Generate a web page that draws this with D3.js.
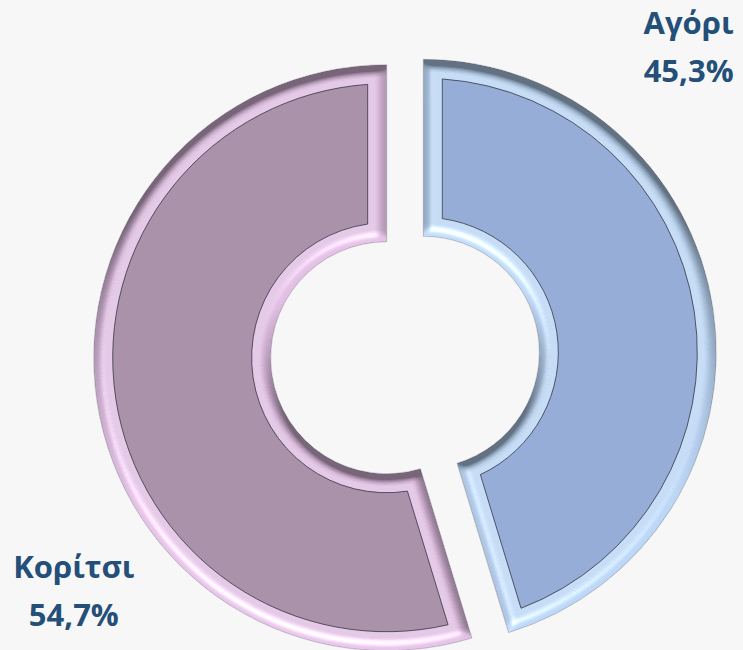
<!DOCTYPE html>
<html>
<head>
<meta charset="utf-8">
<script src="https://cdn.jsdelivr.net/npm/d3@7"></script>
<style>
  body { margin: 0; background: #f7f7f7; }
  svg { display: block; }
</style>
</head>
<body>
<script>
// δεδομένα
const categories = ["Αγόρι", "Κορίτσι"];
const values = [45.3, 54.7];
const valueLabels = ["45,3%", "54,7%"];

const width = 743;
const height = 650;
const cx = 405, cy = 355;
const outerR = 293;
const innerR = 116;
const rim = 19;        // πλάτος του "πλαισίου" (bevel)
const explode = 18.5;  // απόσταση των κομματιών από το κέντρο

const faceColors = ["#96aed7", "#a992aa"];
const rimColors  = ["#b2cbe8", "#d6b6d8"];
const labelColor = "#244f79";
// γωνία και ακτίνα για κάθε ετικέτα (μοίρες, από πάνω, δεξιόστροφα)
const labelAngles = [43.5, 233.5];
const labelRadius = 412;

const svg = d3.select("body").append("svg")
    .attr("width", width)
    .attr("height", height);

svg.append("rect")
    .attr("width", width)
    .attr("height", height)
    .attr("fill", "#f7f7f7");

const defs = svg.append("defs");

// φίλτρο για το 3D πλαίσιο
const f = defs.append("filter")
    .attr("id", "bevel")
    .attr("x", "-10%").attr("y", "-10%")
    .attr("width", "120%").attr("height", "120%");
f.append("feGaussianBlur").attr("in", "SourceAlpha").attr("stdDeviation", 5).attr("result", "blur");
f.append("feDiffuseLighting")
    .attr("in", "blur").attr("surfaceScale", 8).attr("diffuseConstant", 1.5)
    .attr("lighting-color", "#fff").attr("result", "diff")
  .append("feDistantLight").attr("azimuth", 90).attr("elevation", 32);
f.append("feComposite").attr("in", "diff").attr("in2", "SourceGraphic")
    .attr("operator", "arithmetic").attr("k1", 0.85).attr("k3", 0.28).attr("result", "lit");
f.append("feSpecularLighting")
    .attr("in", "blur").attr("surfaceScale", 8).attr("specularConstant", 0.5)
    .attr("specularExponent", 16).attr("lighting-color", "#fff").attr("result", "spec")
  .append("feDistantLight").attr("azimuth", 110).attr("elevation", 45);
f.append("feComposite").attr("in", "spec").attr("in2", "SourceAlpha")
    .attr("operator", "in").attr("result", "spec2");
f.append("feComposite").attr("in", "lit").attr("in2", "spec2")
    .attr("operator", "arithmetic").attr("k2", 1).attr("k3", 1).attr("result", "all");
f.append("feComposite").attr("in", "all").attr("in2", "SourceAlpha").attr("operator", "in");

const pie = d3.pie().sort(null).value(d => d);
const arcs = pie(values);

const arcOuter = d3.arc().innerRadius(innerR).outerRadius(outerR);
const padR = 200;
const arcFace = d3.arc()
    .innerRadius(innerR + rim)
    .outerRadius(outerR - rim)
    .padRadius(padR)
    .padAngle(2 * Math.asin(rim / padR));

const root = svg.append("g").attr("transform", `translate(${cx},${cy})`);

const slices = root.selectAll("g.slice")
  .data(arcs)
  .join("g")
    .attr("class", "slice")
    .attr("transform", d => {
        const a = (d.startAngle + d.endAngle) / 2;
        return `translate(${explode * Math.sin(a)},${-explode * Math.cos(a)})`;
    });

slices.append("path")
    .attr("d", arcOuter)
    .attr("fill", (d, i) => rimColors[i])
    .attr("filter", "url(#bevel)");

slices.append("path")
    .attr("d", arcOuter)
    .attr("fill", "none")
    .attr("stroke", "#4a4a5a")
    .attr("stroke-opacity", 0.35)
    .attr("stroke-width", 0.8);

slices.append("path")
    .attr("d", arcFace)
    .attr("fill", (d, i) => faceColors[i])
    .attr("stroke", "#2e2e3c")
    .attr("stroke-width", 1)
    .attr("stroke-opacity", 0.75);

// ετικέτες
const labels = root.selectAll("text.lbl")
  .data(arcs)
  .join("text")
    .attr("class", "lbl")
    .attr("text-anchor", "middle")
    .attr("font-family", "'Open Sans', sans-serif")
    .attr("font-weight", 700)
    .attr("font-size", 31)
    .attr("fill", labelColor)
    .attr("transform", (d, i) => {
        const a = labelAngles[i] * Math.PI / 180;
        return `translate(${labelRadius * Math.sin(a)},${-labelRadius * Math.cos(a)})`;
    });

labels.append("tspan")
    .attr("x", 0)
    .attr("y", -22)
    .text((d, i) => categories[i]);
labels.append("tspan")
    .attr("x", 0)
    .attr("y", 26)
    .text((d, i) => valueLabels[i]);
</script>
</body>
</html>
